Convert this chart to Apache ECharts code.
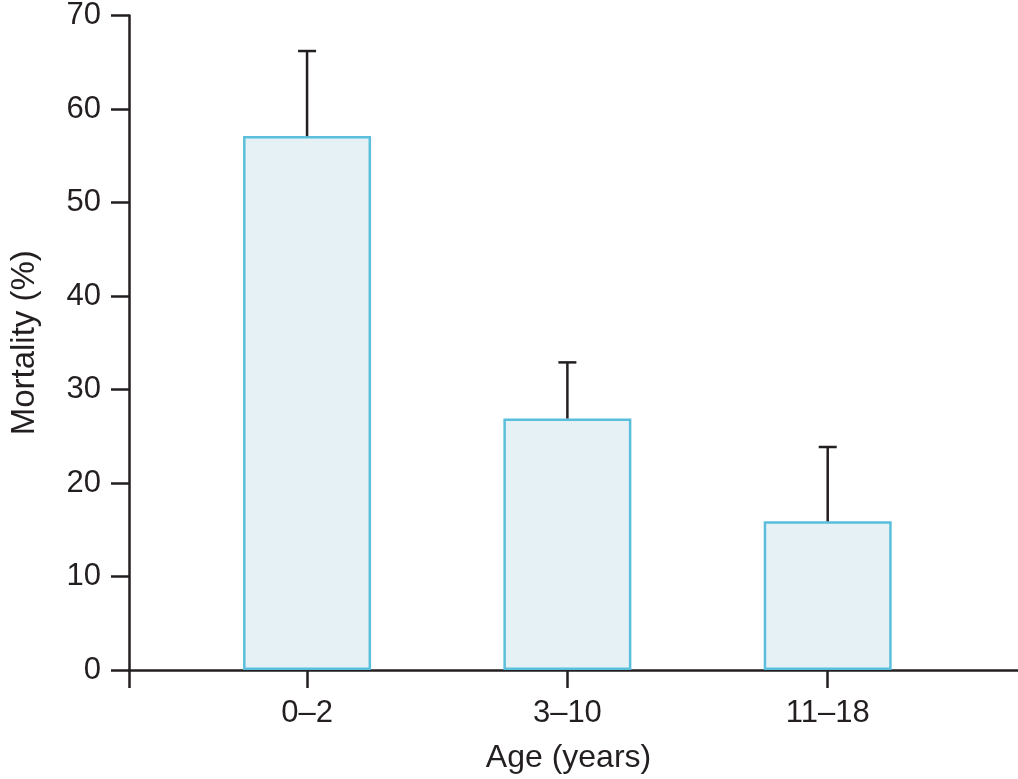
<!DOCTYPE html>
<html>
<head>
<meta charset="utf-8">
<script src="https://cdn.jsdelivr.net/npm/echarts@6/dist/echarts.min.js"></script>
<style>
  html, body { margin: 0; padding: 0; background: #fff; }
  #chart { width: 1018px; height: 779px; }
</style>
</head>
<body>
<div id="chart"></div>
<script>
var categories = ['0–2', '3–10', '11–18'];
var mortality = [57.1, 26.9, 15.9];
var errorTop = [66.2, 32.9, 23.85];
var yTicks = [0, 10, 20, 30, 40, 50, 60, 70];

var axisColor = '#231f20';
var font = 'Liberation Sans, Arial, Helvetica, sans-serif';

// bars sit at x = 1, 2, 3 on a value axis so the y axis can stand left of the first slot
var xMin = 0.316, xMax = 3.731;
var barData = categories.map(function (c, i) { return [i + 1, mortality[i]]; });
var errData = categories.map(function (c, i) { return [i + 1, mortality[i], errorTop[i]]; });

var myChart = echarts.init(document.getElementById('chart'));
var option = {
    animation: false,
    grid: { left: 119, right: 0, top: 15, bottom: 102, containLabel: false },
    xAxis: {
        type: 'value',
        min: xMin,
        max: xMax,
        splitLine: { show: false },
        name: 'Age (years)',
        nameLocation: 'middle',
        nameGap: 72,
        nameTextStyle: { fontFamily: font, fontSize: 32, color: axisColor, padding: [0, 10, 0, 0] },
        axisLine: { onZero: false, lineStyle: { color: axisColor, width: 2.5 } },
        axisTick: {
            show: true, length: 18, inside: false,
            customValues: [xMin, 1, 2, 3],
            lineStyle: { color: axisColor, width: 2.5 }
        },
        axisLabel: {
            customValues: [1, 2, 3],
            margin: 28,
            fontFamily: font, fontSize: 31, color: axisColor,
            formatter: function (v) { return categories[Math.round(v) - 1]; }
        }
    },
    yAxis: {
        type: 'value',
        min: yTicks[0],
        max: yTicks[yTicks.length - 1],
        interval: 10,
        splitLine: { show: false },
        name: 'Mortality (%)',
        nameLocation: 'middle',
        nameGap: 88,
        nameTextStyle: { fontFamily: font, fontSize: 33, color: axisColor },
        axisLine: { show: true, lineStyle: { color: axisColor, width: 2.5 } },
        axisTick: { show: true, length: 18, lineStyle: { color: axisColor, width: 2.5 } },
        axisLabel: { margin: 28, fontFamily: font, fontSize: 31, color: axisColor }
    },
    series: [
        {
            type: 'bar',
            data: barData,
            barWidth: 128,
            itemStyle: {
                color: '#e5f1f5',
                borderColor: '#5bbfdc',
                borderWidth: 2.5
            },
            z: 2
        },
        {
            type: 'custom',
            data: errData,
            z: 3,
            renderItem: function (params, api) {
                var x = api.value(0);
                var base = api.coord([x, api.value(1)]);
                var top = api.coord([x, api.value(2)]);
                var half = 9;
                var st = { stroke: axisColor, lineWidth: 2.5 };
                return {
                    type: 'group',
                    children: [
                        { type: 'line', shape: { x1: base[0], y1: base[1], x2: top[0], y2: top[1] }, style: st },
                        { type: 'line', shape: { x1: top[0] - half, y1: top[1], x2: top[0] + half, y2: top[1] }, style: st }
                    ]
                };
            }
        }
    ]
};
myChart.setOption(option);
</script>
</body>
</html>
